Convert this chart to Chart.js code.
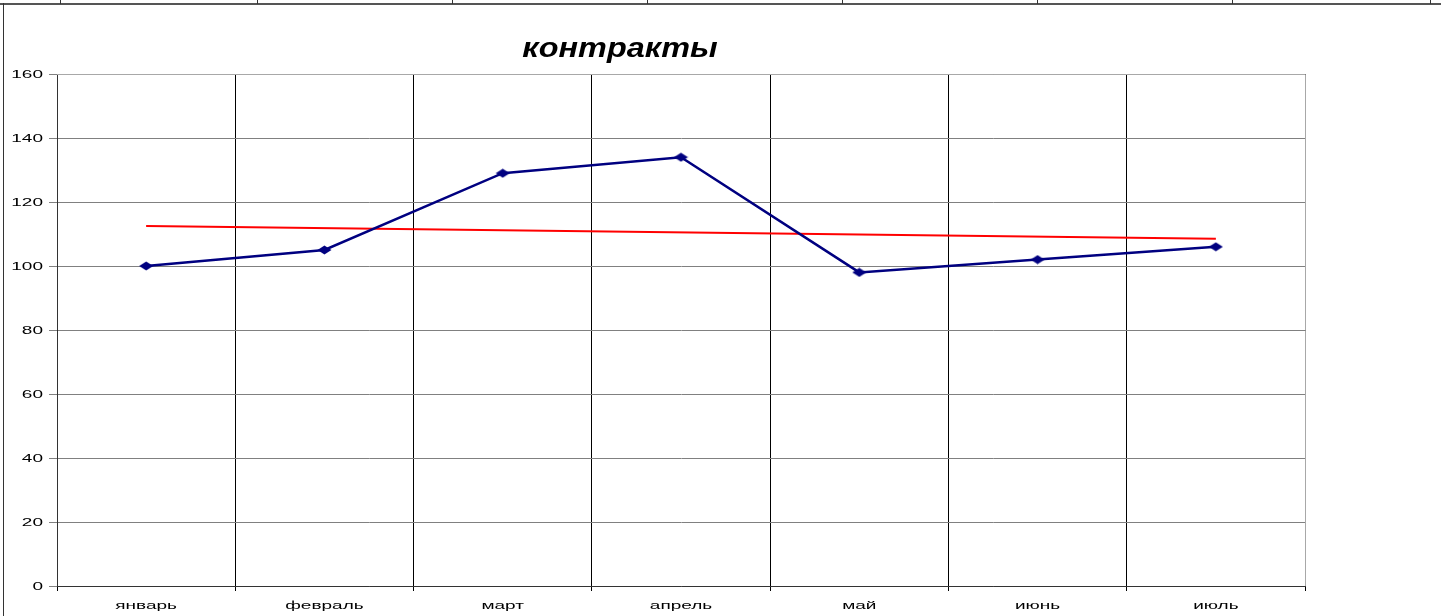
<!DOCTYPE html>
<html lang="ru">
<head>
    <meta charset="UTF-8">
    <title>контракты</title>
    <script src="https://cdn.jsdelivr.net/npm/chart.js"></script>
    <style>
        body {
            margin: 0;
            background: #fff;
            font-family: "Liberation Sans", Arial, sans-serif;
        }
        #wrap {
            position: relative;
            width: 1441px;
            height: 616px;
            overflow: hidden;
        }
        #title {
            position: absolute;
            left: 420px;
            width: 400px;
            top: 33px;
            line-height: 27px;
            text-align: center;
            font: italic bold 27px "Liberation Sans", Arial, sans-serif;
            color: #000;
            transform: scaleX(1.2);
        }
        .frame-top {
            position: absolute;
            left: 0; top: 3px;
            width: 1441px; height: 2px;
            background: #555;
        }
        .frame-left {
            position: absolute;
            left: 3px; top: 3px;
            width: 1px; height: 613px;
            background: #333;
        }
        .col {
            position: absolute;
            top: 0;
            width: 1px; height: 4px;
            background: #333;
        }
        #chart-box {
            position: absolute;
            left: 0; top: 0;
            width: 1441px; height: 616px;
        }
    </style>
</head>
<body>
<div id="wrap">
    <div class="frame-top"></div>
    <div class="frame-left"></div>
    <div id="cols"></div>
    <div id="chart-box"><canvas id="chart"></canvas></div>
    <div id="title">контракты</div>
</div>
<script>
    // данные
    const months = ['январь', 'февраль', 'март', 'апрель', 'май', 'июнь', 'июль'];
    const contracts = [100, 105, 129, 134, 98, 102, 106];
    // линия тренда: концы
    const trend = [112.5, null, null, null, null, null, 108.5];
    const yTicks = [0, 20, 40, 60, 80, 100, 120, 140, 160];

    // границы столбцов листа над диаграммой
    const colEdges = [60, 257, 452, 647, 842, 1037, 1232, 1430];
    const cols = document.getElementById('cols');
    colEdges.forEach(x => {
        const d = document.createElement('div');
        d.className = 'col';
        d.style.left = x + 'px';
        cols.appendChild(d);
    });

    // ромбовидный маркер, растянутый по ширине
    const diamond = document.createElement('canvas');
    diamond.width = 15;
    diamond.height = 10;
    const dc = diamond.getContext('2d');
    dc.fillStyle = '#000080';
    dc.beginPath();
    dc.moveTo(7.5, 0.5);
    dc.lineTo(14.5, 5);
    dc.lineTo(7.5, 9.5);
    dc.lineTo(0.5, 5);
    dc.closePath();
    dc.fill();

    const STRETCH = 1.9;
    const LABEL_FONT = '10px "Liberation Sans", Arial, sans-serif';

    function stretchedText(ctx, text, x, y, align) {
        ctx.save();
        ctx.translate(x, y);
        ctx.scale(STRETCH, 1);
        ctx.textAlign = align;
        ctx.textBaseline = 'middle';
        ctx.fillText(text, 0, 0);
        ctx.restore();
    }

    const plotFrame = {
        id: 'plotFrame',
        beforeDatasetsDraw(chart) {
            const a = chart.chartArea;
            const ctx = chart.ctx;
            ctx.save();
            ctx.strokeStyle = '#a8a8a8';
            ctx.lineWidth = 1;
            ctx.beginPath();
            ctx.moveTo(a.left, a.top + 0.5);
            ctx.lineTo(a.right + 0.5, a.top + 0.5);
            ctx.lineTo(a.right + 0.5, a.bottom);
            ctx.stroke();
            ctx.restore();
        },
        afterDraw(chart) {
            const ctx = chart.ctx;
            const xs = chart.scales.x;
            const ys = chart.scales.y;
            ctx.save();
            ctx.fillStyle = '#000';
            ctx.font = LABEL_FONT;
            xs.ticks.forEach((t, i) => {
                stretchedText(ctx, xs.getLabelForValue(t.value), xs.getPixelForTick(i), 606, 'center');
            });
            ys.ticks.forEach(t => {
                stretchedText(ctx, String(t.value), ys.left + 43, ys.getPixelForValue(t.value) + 1, 'right');
            });
            ctx.restore();
        }
    };

    const ctx = document.getElementById('chart').getContext('2d');
    new Chart(ctx, {
        type: 'line',
        data: {
            labels: months,
            datasets: [{
                label: 'контракты',
                data: contracts,
                borderColor: '#000080',
                backgroundColor: '#000080',
                borderWidth: 2.5,
                pointStyle: diamond,
                pointRadius: 5,
                tension: 0,
                fill: false
            }, {
                label: 'тренд',
                data: trend,
                borderColor: '#ff0000',
                borderWidth: 2,
                pointRadius: 0,
                spanGaps: true,
                tension: 0,
                fill: false
            }]
        },
        options: {
            responsive: true,
            maintainAspectRatio: false,
            animation: false,
            layout: { padding: { left: 0, right: 136, top: 74, bottom: 0 } },
            plugins: {
                legend: { display: false },
                title: { display: false },
                tooltip: { enabled: false }
            },
            scales: {
                x: {
                    offset: true,
                    grid: {
                        offset: true,
                        color: '#000',
                        lineWidth: 1,
                        tickLength: 5
                    },
                    border: { color: '#333', width: 1 },
                    ticks: { color: 'rgba(0,0,0,0)', font: { size: 10 } },
                    afterFit(scale) { scale.height = 30; }
                },
                y: {
                    min: 0,
                    max: 160,
                    afterBuildTicks(scale) {
                        scale.ticks = yTicks.map(v => ({ value: v }));
                    },
                    grid: {
                        color: '#808080',
                        lineWidth: 1,
                        tickLength: 8
                    },
                    border: { color: '#333', width: 1 },
                    ticks: { color: 'rgba(0,0,0,0)', font: { size: 10 } },
                    afterFit(scale) { scale.width = 57; }
                }
            }
        },
        plugins: [plotFrame]
    });
</script>
</body>
</html>
